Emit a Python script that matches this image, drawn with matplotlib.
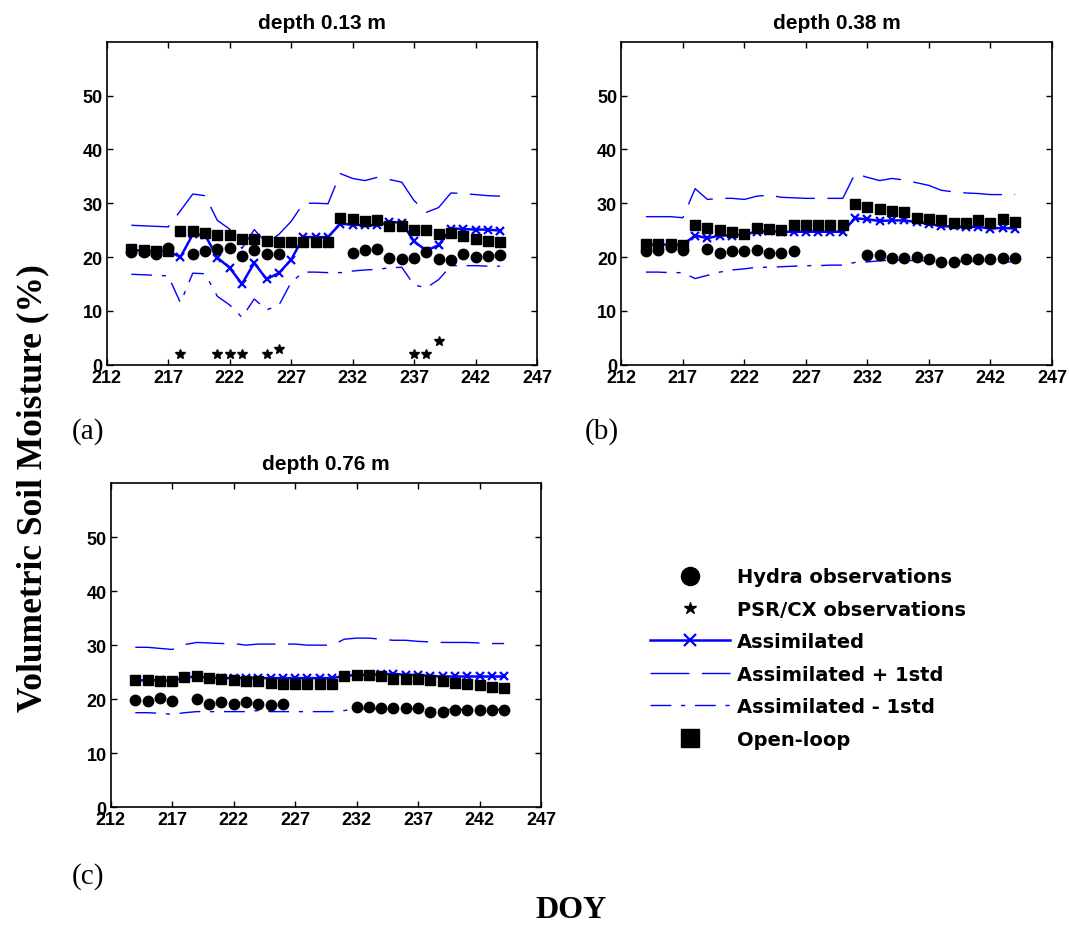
import matplotlib
matplotlib.use("Agg")
import matplotlib.pyplot as plt
import numpy as np

nan = np.nan

days = list(range(214, 245))

# depth 0.13 m
hydra_a = [20.9, 21.0, 20.5, 21.6, nan, 20.6, 21.2, 21.4, 21.6, 20.1, 21.3, 20.6, 20.6, nan, nan, nan,
           nan, nan, 20.7, 21.3, 21.4, 19.8, 19.7, 19.8, 21.0, 19.7, 19.5, 20.6, 20.0, 20.2, 20.4]
open_a = [21.4, 21.3, 21.2, 21.1, 24.9, 24.9, 24.5, 24.1, 24.1, 23.3, 23.3, 23.0, 22.7, 22.7, 22.7, 22.8,
          22.7, 27.3, 27.0, 26.7, 26.8, 25.7, 25.8, 25.0, 25.0, 24.3, 24.5, 24.0, 23.3, 23.0, 22.7]
assim_a = [21.3, 21.2, 21.1, 21.1, 20.0, 24.2, 24.1, 19.9, 18.0, 15.0, 18.9, 15.9, 17.0, 19.5, 23.7, 23.7,
           23.7, 26.2, 26.0, 25.9, 25.9, 26.5, 26.4, 22.9, 21.2, 22.2, 25.3, 25.2, 25.1, 25.1, 24.9]
upper_a = [25.9, 25.8, 25.7, 25.6, 28.6, 31.7, 31.4, 26.8, 25.2, 21.6, 25.1, 22.6, 24.2, 26.6, 30.0, 30.0,
           29.9, 35.5, 34.6, 34.2, 34.8, 34.4, 33.9, 30.5, 28.3, 29.2, 31.9, 31.8, 31.6, 31.4, 31.3]
lower_a = [16.8, 16.7, 16.6, 16.5, 11.5, 17.0, 16.9, 12.7, 11.1, 8.8, 12.2, 10.2, 11.0, 15.3, 17.2, 17.2,
           17.1, 17.1, 17.4, 17.6, 17.7, 18.0, 18.1, 14.8, 14.3, 15.8, 18.4, 18.4, 18.4, 18.3, 18.3]
psr_days_a = [218, 221, 222, 223, 225, 226, 237, 238, 239]
psr_a = [2.0, 2.0, 2.0, 2.0, 2.0, 3.0, 2.0, 2.0, 4.4]

# depth 0.38 m
hydra_b = [21.2, 21.3, 21.9, 21.3, nan, 21.4, 20.7, 21.1, 21.1, 21.3, 20.7, 20.7, 21.1, nan, nan, nan,
           nan, nan, 20.3, 20.3, 19.9, 19.9, 20.0, 19.6, 19.1, 19.1, 19.6, 19.6, 19.6, 19.8, 19.8]
open_b = [22.5, 22.5, 22.5, 22.3, 26.0, 25.4, 25.1, 24.7, 24.3, 25.4, 25.2, 25.1, 25.9, 25.9, 25.9, 26.0,
          26.0, 29.8, 29.3, 29.0, 28.6, 28.4, 27.3, 27.0, 26.8, 26.4, 26.4, 26.8, 26.4, 27.0, 26.5]
assim_b = [22.3, 22.3, 22.3, 22.3, 24.0, 23.5, 24.0, 24.0, 24.2, 24.7, 24.8, 24.7, 24.7, 24.7, 24.7, 24.7,
           24.7, 27.2, 27.0, 26.7, 26.8, 26.8, 26.5, 26.2, 25.7, 25.7, 25.6, 25.6, 25.3, 25.4, 25.3]
upper_b = [27.5, 27.5, 27.5, 27.3, 32.7, 30.7, 30.9, 30.9, 30.7, 31.3, 31.5, 31.1, 31.0, 30.9, 30.9, 30.9,
           30.9, 35.5, 34.8, 34.2, 34.6, 34.3, 33.8, 33.3, 32.4, 32.1, 31.9, 31.8, 31.6, 31.6, 31.6]
lower_b = [17.2, 17.2, 17.1, 17.1, 16.0, 16.6, 17.2, 17.6, 17.8, 18.1, 18.1, 18.2, 18.3, 18.4, 18.4, 18.5,
           18.5, 19.0, 19.1, 19.3, 19.4, 19.4, 19.3, 19.3, 19.2, 19.2, 19.2, 19.2, 19.2, 19.1, 19.1]

# depth 0.76 m
hydra_c = [19.8, 19.6, 20.2, 19.6, nan, 20.0, 19.2, 19.4, 19.2, 19.4, 19.2, 19.0, 19.2, nan, nan, nan,
           nan, nan, 18.6, 18.6, 18.3, 18.3, 18.3, 18.3, 17.7, 17.7, 18.0, 18.0, 18.0, 18.0, 18.0]
open_c = [23.5, 23.5, 23.4, 23.4, 24.1, 24.3, 24.0, 23.7, 23.6, 23.4, 23.3, 23.0, 22.8, 22.8, 22.8, 22.8,
          22.8, 24.2, 24.5, 24.4, 24.2, 23.8, 23.7, 23.7, 23.5, 23.3, 23.0, 22.8, 22.6, 22.3, 22.0]
assim_c = [23.5, 23.5, 23.5, 23.4, 24.0, 24.2, 24.0, 23.9, 23.9, 23.9, 23.9, 23.9, 23.9, 23.9, 23.9, 23.9,
           23.9, 24.3, 24.5, 24.5, 24.6, 24.7, 24.5, 24.5, 24.3, 24.2, 24.2, 24.2, 24.2, 24.2, 24.2]
upper_c = [29.6, 29.6, 29.4, 29.2, 30.1, 30.5, 30.4, 30.3, 30.3, 30.0, 30.2, 30.2, 30.2, 30.2, 30.0, 30.0,
           30.0, 31.1, 31.3, 31.3, 31.1, 30.9, 30.9, 30.7, 30.6, 30.5, 30.5, 30.5, 30.4, 30.3, 30.3]
lower_c = [17.5, 17.5, 17.4, 17.2, 17.5, 17.7, 17.7, 17.7, 17.7, 17.7, 17.9, 17.7, 17.7, 17.7, 17.7, 17.7,
           17.7, 17.9, 18.2, 18.2, 18.2, 18.2, 18.2, 18.2, 18.1, 18.1, 18.1, 18.1, 18.1, 18.1, 18.1]

x_ticks = [212, 217, 222, 227, 232, 237, 242, 247]
y_ticks = [0, 10, 20, 30, 40, 50]
legend_labels = ["Hydra observations", "PSR/CX observations", "Assimilated",
                 "Assimilated + 1std", "Assimilated - 1std", "Open-loop"]

SANS = "Liberation Sans"
SERIF = "Liberation Serif"
BLUE = "#0000ff"


def draw_panel(ax, title, hydra, open_loop, assim, upper, lower, psr_days=None, psr=None):
    h_up, = ax.plot(days, upper, color=BLUE, lw=1.0, ls=(0, (28, 9)), zorder=2)
    h_lo, = ax.plot(days, lower, color=BLUE, lw=1.0, ls=(0, (15, 7, 3, 7)), zorder=2)
    h_as, = ax.plot(days, assim, color=BLUE, lw=1.8, marker="x", ms=6, mew=1.6, zorder=3)
    h_ol, = ax.plot(days, open_loop, ls="none", marker="s", ms=7.5, color="black", zorder=4)
    h_hy, = ax.plot(days, hydra, ls="none", marker="o", ms=7.5, color="black", zorder=4)
    h_ps, = ax.plot(psr_days if psr_days else [], psr if psr else [], ls="none", marker="*",
                    ms=7.5, color="black", zorder=5)
    ax.set_xlim(212, 247)
    ax.set_ylim(0, 60)
    ax.set_xticks(x_ticks)
    ax.set_yticks(y_ticks)
    ax.tick_params(direction="in", top=True, right=True, length=4, width=1, pad=3)
    for lab in ax.get_xticklabels() + ax.get_yticklabels():
        lab.set_fontfamily(SANS)
        lab.set_fontweight("bold")
        lab.set_fontsize(13)
    for sp in ax.spines.values():
        sp.set_linewidth(1.2)
    ax.set_title(title, fontfamily=SANS, fontweight="bold", fontsize=15, pad=10)
    return [h_hy, h_ps, h_as, h_up, h_lo, h_ol]


fig = plt.figure(figsize=(10.69, 9.28), dpi=100)
W, H = 1069, 928

ax_a = fig.add_axes([106.7 / W, 1 - 365.7 / H, 430.3 / W, 323 / H])
ax_b = fig.add_axes([621.3 / W, 1 - 365.7 / H, 430.7 / W, 323 / H])
ax_c = fig.add_axes([110.7 / W, 1 - 808.3 / H, 430.3 / W, 324.3 / H])

handles = draw_panel(ax_a, "depth 0.13 m", hydra_a, open_a, assim_a, upper_a, lower_a, psr_days_a, psr_a)
draw_panel(ax_b, "depth 0.38 m", hydra_b, open_b, assim_b, upper_b, lower_b)
draw_panel(ax_c, "depth 0.76 m", hydra_c, open_c, assim_c, upper_c, lower_c)

fig.text(72 / W, 1 - 432 / H, "(a)", fontfamily=SERIF, fontsize=21, va="center", ha="left")
fig.text(585 / W, 1 - 432 / H, "(b)", fontfamily=SERIF, fontsize=21, va="center", ha="left")
fig.text(72 / W, 1 - 877 / H, "(c)", fontfamily=SERIF, fontsize=21, va="center", ha="left")

fig.text(33 / W, 1 - 488 / H, "Volumetric Soil Moisture (%)", fontfamily=SERIF, fontweight="bold",
         fontsize=25.5, rotation=90, va="center", ha="center")
fig.text(571 / W, 1 - 911 / H, "DOY", fontfamily=SERIF, fontweight="bold", fontsize=23,
         va="center", ha="center")

leg = fig.legend(handles, legend_labels, loc="center left", bbox_to_anchor=(650 / W, 1 - 659 / H),
                 frameon=False, prop={"family": "DejaVu Sans", "weight": "bold", "size": 14},
                 handlelength=4.1, handletextpad=0.35, labelspacing=0.69,
                 borderpad=0, borderaxespad=0, numpoints=1)
# legend markers are drawn larger than the plotted ones
for h, ms in zip(leg.legend_handles, [13, 9, 8, 0, 0, 12.5]):
    if ms:
        h.set_markersize(ms)

fig.savefig("out.png", dpi=100)
